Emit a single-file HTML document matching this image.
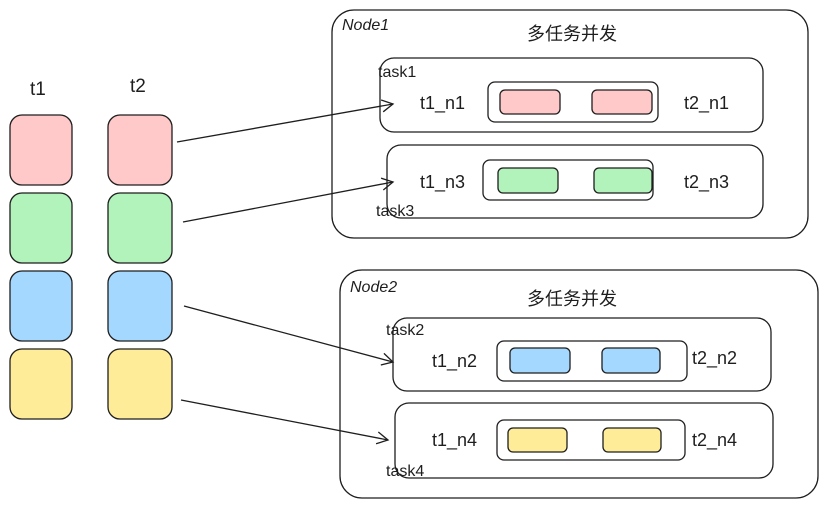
<!DOCTYPE html>
<html><head><meta charset="utf-8"><style>
html,body{margin:0;padding:0;background:#fff;}
svg{display:block;}
text{font-family:"Liberation Sans","Noto Sans CJK SC",sans-serif;fill:#1e1e1e;}
</style></head><body>
<svg width="826" height="508" viewBox="0 0 826 508" xmlns="http://www.w3.org/2000/svg">
<defs><marker id="a" markerWidth="14" markerHeight="14" refX="12" refY="7" orient="auto" markerUnits="userSpaceOnUse"><path d="M1,1 L12,7 L1,13" fill="none" stroke="#1e1e1e" stroke-width="1.3"/></marker></defs>
<g stroke="#1e1e1e" stroke-width="1.3">
<text x="30" y="95" font-size="19" stroke="none">t1</text>
<text x="130" y="92" font-size="19" stroke="none">t2</text>
<rect x="10" y="115" width="62" height="70" rx="12" fill="#ffc9c9"/>
<rect x="10" y="193" width="62" height="70" rx="12" fill="#b2f2bb"/>
<rect x="10" y="271" width="62" height="70" rx="12" fill="#a5d8ff"/>
<rect x="10" y="349" width="62" height="70" rx="12" fill="#ffec99"/>
<rect x="108" y="115" width="64" height="70" rx="12" fill="#ffc9c9"/>
<rect x="108" y="193" width="64" height="70" rx="12" fill="#b2f2bb"/>
<rect x="108" y="271" width="64" height="70" rx="12" fill="#a5d8ff"/>
<rect x="108" y="349" width="64" height="70" rx="12" fill="#ffec99"/>

<rect x="332" y="10" width="476" height="228" rx="22" fill="none"/>
<text x="342" y="30" font-size="16" font-style="italic" stroke="none">Node1</text>
<text x="572" y="40" font-size="18" text-anchor="middle" stroke="none">多任务并发</text>
<rect x="380" y="58" width="383" height="74" rx="14" fill="none"/>
<text x="378" y="77" font-size="16" stroke="none">task1</text>
<text x="420" y="109" font-size="18" stroke="none">t1_n1</text>
<rect x="488" y="82" width="170" height="40" rx="7" fill="none"/>
<rect x="500" y="90" width="60" height="24" rx="5" fill="#ffc9c9"/>
<rect x="592" y="90" width="60" height="24" rx="5" fill="#ffc9c9"/>
<text x="684" y="109" font-size="18" stroke="none">t2_n1</text>

<rect x="387" y="145" width="376" height="73" rx="14" fill="none"/>
<text x="420" y="188" font-size="18" stroke="none">t1_n3</text>
<rect x="483" y="160" width="170" height="40" rx="7" fill="none"/>
<rect x="498" y="168" width="60" height="25" rx="5" fill="#b2f2bb"/>
<rect x="594" y="168" width="58" height="25" rx="5" fill="#b2f2bb"/>
<text x="684" y="188" font-size="18" stroke="none">t2_n3</text>
<text x="376" y="216" font-size="16" stroke="none">task3</text>

<rect x="340" y="270" width="478" height="228" rx="22" fill="none"/>
<text x="350" y="292" font-size="16" font-style="italic" stroke="none">Node2</text>
<text x="572" y="305" font-size="18" text-anchor="middle" stroke="none">多任务并发</text>
<rect x="393" y="318" width="378" height="73" rx="14" fill="none"/>
<text x="386" y="335" font-size="16" stroke="none">task2</text>
<text x="432" y="367" font-size="18" stroke="none">t1_n2</text>
<rect x="497" y="341" width="190" height="40" rx="7" fill="none"/>
<rect x="510" y="348" width="60" height="25" rx="5" fill="#a5d8ff"/>
<rect x="602" y="348" width="58" height="25" rx="5" fill="#a5d8ff"/>
<text x="692" y="364" font-size="18" stroke="none">t2_n2</text>

<rect x="395" y="403" width="378" height="75" rx="14" fill="none"/>
<text x="432" y="446" font-size="18" stroke="none">t1_n4</text>
<rect x="497" y="420" width="188" height="40" rx="7" fill="none"/>
<rect x="508" y="428" width="59" height="24" rx="5" fill="#ffec99"/>
<rect x="603" y="428" width="58" height="24" rx="5" fill="#ffec99"/>
<text x="692" y="446" font-size="18" stroke="none">t2_n4</text>
<text x="386" y="476" font-size="16" stroke="none">task4</text>

<line x1="177" y1="142" x2="393" y2="104" marker-end="url(#a)"/>
<line x1="183" y1="222" x2="393" y2="182" marker-end="url(#a)"/>
<line x1="184" y1="306" x2="393" y2="362" marker-end="url(#a)"/>
<line x1="181" y1="400" x2="388" y2="440" marker-end="url(#a)"/>
</g>
</svg>
</body></html>
